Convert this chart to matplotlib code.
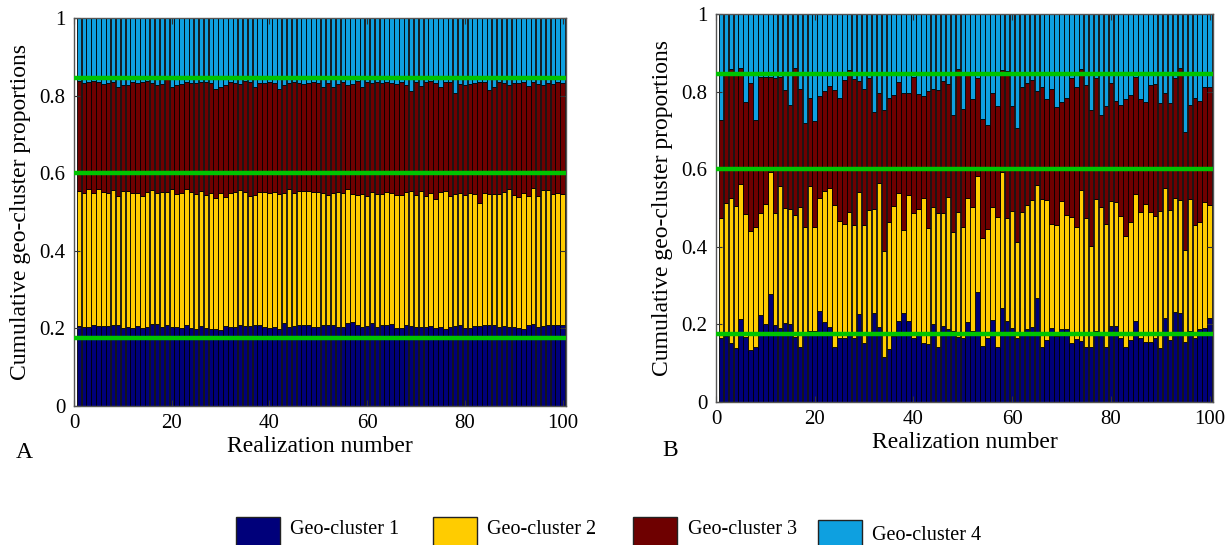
import matplotlib
matplotlib.use("Agg")
import matplotlib.pyplot as plt
from matplotlib.patches import Rectangle
import numpy as np

plt.rcParams['font.family'] = ['Liberation Serif', 'DejaVu Serif']

realizations = list(range(1, 101))

# Panel A cumulative tops
a_c1 = [0.206, 0.203, 0.203, 0.209, 0.206, 0.206, 0.206, 0.209, 0.209, 0.202,
        0.204, 0.202, 0.206, 0.200, 0.203, 0.211, 0.211, 0.204, 0.209, 0.204,
        0.203, 0.202, 0.209, 0.200, 0.198, 0.206, 0.200, 0.198, 0.198, 0.196,
        0.206, 0.203, 0.204, 0.209, 0.206, 0.206, 0.209, 0.209, 0.203, 0.200,
        0.204, 0.198, 0.213, 0.204, 0.206, 0.209, 0.209, 0.209, 0.204, 0.204,
        0.209, 0.209, 0.209, 0.204, 0.204, 0.213, 0.217, 0.209, 0.204, 0.206,
        0.213, 0.203, 0.209, 0.209, 0.211, 0.200, 0.200, 0.209, 0.206, 0.204,
        0.204, 0.204, 0.206, 0.200, 0.203, 0.198, 0.204, 0.206, 0.209, 0.200,
        0.200, 0.206, 0.206, 0.209, 0.209, 0.209, 0.203, 0.206, 0.204, 0.204,
        0.200, 0.198, 0.209, 0.211, 0.203, 0.206, 0.209, 0.209, 0.209, 0.209]
a_c2 = [0.554, 0.550, 0.558, 0.550, 0.559, 0.552, 0.550, 0.557, 0.541, 0.554,
        0.554, 0.548, 0.548, 0.542, 0.552, 0.557, 0.548, 0.552, 0.552, 0.559,
        0.546, 0.548, 0.558, 0.552, 0.547, 0.554, 0.544, 0.548, 0.535, 0.550,
        0.538, 0.548, 0.552, 0.557, 0.552, 0.542, 0.544, 0.552, 0.552, 0.550,
        0.552, 0.546, 0.550, 0.558, 0.550, 0.554, 0.554, 0.555, 0.552, 0.552,
        0.550, 0.544, 0.548, 0.552, 0.548, 0.559, 0.547, 0.544, 0.547, 0.541,
        0.552, 0.547, 0.547, 0.551, 0.548, 0.544, 0.543, 0.552, 0.554, 0.544,
        0.554, 0.542, 0.548, 0.533, 0.552, 0.555, 0.541, 0.547, 0.548, 0.544,
        0.548, 0.547, 0.524, 0.548, 0.546, 0.546, 0.546, 0.552, 0.559, 0.544,
        0.538, 0.548, 0.542, 0.561, 0.542, 0.557, 0.557, 0.547, 0.550, 0.547]
a_c3 = [0.838, 0.833, 0.836, 0.838, 0.836, 0.830, 0.832, 0.836, 0.823, 0.827,
        0.827, 0.836, 0.833, 0.836, 0.838, 0.832, 0.827, 0.830, 0.849, 0.823,
        0.827, 0.830, 0.836, 0.833, 0.832, 0.836, 0.836, 0.833, 0.816, 0.823,
        0.827, 0.836, 0.833, 0.830, 0.838, 0.836, 0.821, 0.833, 0.832, 0.836,
        0.832, 0.817, 0.827, 0.833, 0.836, 0.833, 0.830, 0.832, 0.836, 0.833,
        0.823, 0.832, 0.823, 0.830, 0.836, 0.827, 0.830, 0.838, 0.823, 0.836,
        0.833, 0.836, 0.833, 0.836, 0.832, 0.830, 0.836, 0.827, 0.813, 0.836,
        0.825, 0.836, 0.838, 0.833, 0.821, 0.836, 0.836, 0.806, 0.830, 0.827,
        0.830, 0.833, 0.836, 0.836, 0.814, 0.823, 0.836, 0.833, 0.827, 0.833,
        0.833, 0.836, 0.825, 0.836, 0.830, 0.827, 0.832, 0.830, 0.836, 0.833]

# Panel B cumulative tops
b_c1 = [0.164, 0.170, 0.153, 0.138, 0.214, 0.168, 0.134, 0.141, 0.224, 0.201,
        0.278, 0.198, 0.190, 0.204, 0.201, 0.168, 0.143, 0.181, 0.184, 0.184,
        0.235, 0.207, 0.194, 0.141, 0.164, 0.164, 0.173, 0.166, 0.227, 0.153,
        0.173, 0.229, 0.194, 0.117, 0.137, 0.170, 0.210, 0.230, 0.210, 0.164,
        0.181, 0.151, 0.149, 0.201, 0.143, 0.196, 0.187, 0.184, 0.168, 0.164,
        0.207, 0.184, 0.284, 0.144, 0.164, 0.211, 0.143, 0.243, 0.210, 0.190,
        0.164, 0.179, 0.188, 0.194, 0.267, 0.141, 0.160, 0.190, 0.170, 0.187,
        0.187, 0.153, 0.162, 0.158, 0.141, 0.141, 0.184, 0.181, 0.143, 0.196,
        0.196, 0.164, 0.143, 0.160, 0.210, 0.164, 0.155, 0.155, 0.164, 0.138,
        0.216, 0.160, 0.233, 0.230, 0.155, 0.184, 0.164, 0.187, 0.192, 0.216]
b_c2 = [0.475, 0.512, 0.527, 0.505, 0.562, 0.485, 0.442, 0.450, 0.488, 0.510,
        0.592, 0.488, 0.557, 0.501, 0.497, 0.482, 0.502, 0.450, 0.557, 0.452,
        0.525, 0.544, 0.552, 0.508, 0.467, 0.460, 0.489, 0.455, 0.540, 0.455,
        0.495, 0.497, 0.565, 0.390, 0.463, 0.505, 0.538, 0.443, 0.534, 0.486,
        0.497, 0.527, 0.448, 0.502, 0.486, 0.488, 0.529, 0.437, 0.489, 0.450,
        0.527, 0.502, 0.582, 0.422, 0.445, 0.503, 0.476, 0.592, 0.473, 0.491,
        0.412, 0.489, 0.508, 0.521, 0.558, 0.523, 0.521, 0.458, 0.456, 0.519,
        0.482, 0.478, 0.450, 0.546, 0.473, 0.403, 0.523, 0.502, 0.459, 0.519,
        0.515, 0.480, 0.428, 0.465, 0.536, 0.489, 0.510, 0.489, 0.479, 0.492,
        0.552, 0.496, 0.527, 0.521, 0.392, 0.523, 0.456, 0.465, 0.516, 0.509]
b_c3 = [0.727, 0.851, 0.857, 0.851, 0.862, 0.774, 0.821, 0.727, 0.838, 0.838,
        0.838, 0.834, 0.838, 0.804, 0.765, 0.860, 0.806, 0.718, 0.783, 0.724,
        0.789, 0.802, 0.814, 0.804, 0.783, 0.830, 0.856, 0.832, 0.828, 0.807,
        0.834, 0.748, 0.797, 0.753, 0.783, 0.791, 0.825, 0.797, 0.796, 0.837,
        0.794, 0.789, 0.802, 0.807, 0.804, 0.828, 0.820, 0.740, 0.857, 0.755,
        0.843, 0.780, 0.836, 0.729, 0.714, 0.797, 0.763, 0.856, 0.854, 0.763,
        0.707, 0.811, 0.821, 0.830, 0.802, 0.813, 0.781, 0.806, 0.761, 0.774,
        0.783, 0.834, 0.813, 0.857, 0.817, 0.753, 0.834, 0.740, 0.764, 0.823,
        0.776, 0.765, 0.780, 0.790, 0.837, 0.780, 0.772, 0.817, 0.820, 0.770,
        0.796, 0.770, 0.834, 0.860, 0.697, 0.765, 0.783, 0.776, 0.811, 0.813]

target_levels = [0.175, 0.6, 0.845]
legend_labels = ['Geo-cluster 1', 'Geo-cluster 2', 'Geo-cluster 3', 'Geo-cluster 4']
colors = ['#00007a', '#ffcc00', '#6e0000', '#0ea0e0']
yticks = [0, 0.2, 0.4, 0.6, 0.8, 1.0]
ytick_labels = ['0', '0.2', '0.4', '0.6', '0.8', '1']
xticks = [0, 20, 40, 60, 80, 100]

fig = plt.figure(figsize=(12.3, 5.45), dpi=100)
axA = fig.add_axes([74/1230, 1-406/545, 492/1230, 388/545])
axB = fig.add_axes([716/1230, 1-402/545, 497/1230, 388/545])


def draw(ax, c1, c2, c3):
    x = np.array(realizations)
    c1 = np.array(c1); c2 = np.array(c2); c3 = np.array(c3)
    layers = [(np.zeros_like(c1), c1), (c1, c2), (c2, c3), (c3, np.ones_like(c3))]
    for (lo, hi), col in zip(layers, colors):
        ax.bar(x, hi - lo, bottom=lo, width=0.9, color=col,
               edgecolor='black', linewidth=0.6)
    for lv in target_levels:
        ax.axhline(lv, color='#00c400', linewidth=3.2, zorder=5)
    ax.set_xlim(0, 100.7)
    ax.set_ylim(0, 1)
    ax.set_xticks(xticks)
    ax.set_yticks(yticks)
    ax.set_yticklabels(ytick_labels)
    ax.tick_params(direction='in', top=True, right=True, labelsize=15,
                   length=4, color='#333333', pad=6)
    for s in ax.spines.values():
        s.set_color('#555555')
        s.set_linewidth(1.0)
    ax.set_xlabel('Realization number', fontsize=17, labelpad=2)
    ax.set_ylabel('Cumulative geo-cluster proportions', fontsize=17, labelpad=6)


draw(axA, a_c1, a_c2, a_c3)
draw(axB, b_c1, b_c2, b_c3)

fig.text(24/1230, 1-452/545, 'A', fontsize=17, va='center', ha='center')
fig.text(670/1230, 1-450/545, 'B', fontsize=17, va='center', ha='center')

# legend
patch_x = [236, 433, 633, 818]
text_x = [290, 487, 688, 872]
patch_y = [517, 517, 517, 520]
text_y = [529, 529, 529, 535]
for px, tx, py, ty, col, lab in zip(patch_x, text_x, patch_y, text_y, colors, legend_labels):
    fig.add_artist(Rectangle((px/1230, 1-(py+30)/545), 44/1230, 30/545,
                             transform=fig.transFigure, facecolor=col,
                             edgecolor='#222222', linewidth=1.0))
    fig.text(tx/1230, 1-ty/545, lab, fontsize=14.5, va='center', ha='left')

fig.savefig('out.png', dpi=100)
